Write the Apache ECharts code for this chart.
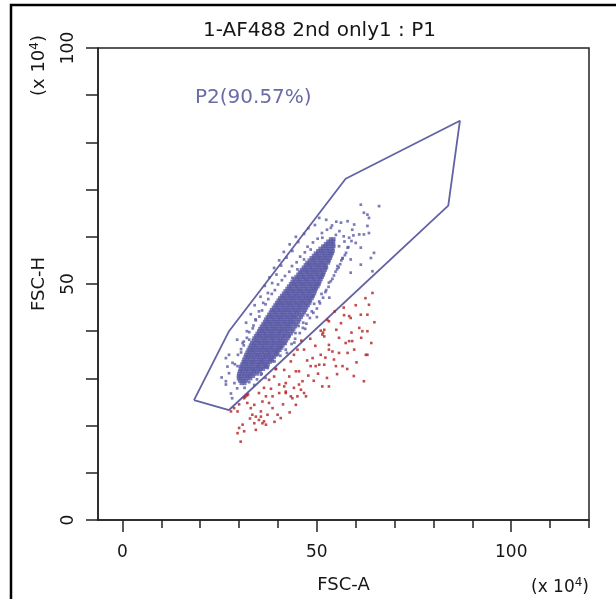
<!DOCTYPE html>
<html><head><meta charset="utf-8">
<script src="https://cdn.jsdelivr.net/npm/echarts@6/dist/echarts.min.js"></script>
<style>html,body{margin:0;padding:0;background:#fff}#c{width:616px;height:599px}</style>
</head><body><div id="c"></div>
<script>
const chartTitle = '1-AF488 2nd only1 : P1';
const gateLabel = 'P2(90.57%)';
const xName = 'FSC-A';
const yName = 'FSC-H';
const xTickValues = [0,10,20,30,40,50,60,70,80,90,100,110,120];
const xMajorValues = [0,50,100];
const yLabelValues = [0,50,100];
const gateX = [18.4,27.4,57.4,86.8,83.8,27.4,18.4];
const gateY = [25.4,40.0,72.3,84.6,66.6,23.3,25.4];

// dense core of P2, read row by row: [y, [x values]]
const blueRows = [
[29.0,[30.6,31.4]],
[29.5,[30.2,31.0,31.8]],
[30.0,[29.9,30.6,31.4,32.2,32.9]],
[30.5,[29.9,30.5,31.4,32.1,32.7,33.6]],
[31.0,[30.0,30.9,31.5,32.4,33.0,33.7,34.6]],
[31.5,[30.2,30.8,31.7,32.3,33.2,33.8,34.5,35.3]],
[32.0,[30.4,31.2,31.8,32.7,33.5,34.0,34.9,35.6,36.2]],
[32.5,[30.5,31.1,32.0,32.6,33.4,34.3,34.9,35.5,36.4,36.9]],
[33.0,[30.8,31.6,32.2,33.1,33.7,34.6,35.2,36.0,36.7,37.4]],
[33.5,[31.1,31.7,32.6,33.3,33.9,34.8,35.6,36.1,37.0,37.9]],
[34.0,[31.3,32.1,32.7,33.6,34.2,35.1,35.8,36.4,37.3,38.0,38.5]],
[34.5,[31.6,32.3,33.1,33.8,34.7,35.3,36.2,36.8,37.6,38.3,39.0]],
[35.0,[31.8,32.6,33.2,34.1,34.8,35.4,36.3,37.0,37.7,38.6,39.4]],
[35.5,[32.1,32.8,33.6,34.2,35.1,35.9,36.5,37.4,38.0,38.8,39.5,39.9]],
[36.0,[32.4,33.2,33.8,34.7,35.3,36.1,36.9,37.5,38.4,39.1,39.8,40.4]],
[36.5,[32.7,33.4,34.2,34.9,35.8,36.4,37.2,38.0,38.6,39.5,40.2,40.9]],
[37.0,[33.0,33.8,34.4,35.3,36.0,36.7,37.5,38.3,38.9,39.8,40.5,41.2]],
[37.5,[33.3,34.0,34.9,35.5,36.4,37.1,37.8,38.7,39.3,40.1,40.9,41.7]],
[38.0,[33.7,34.5,35.1,36.0,36.7,37.4,38.3,38.9,39.8,40.5,41.2,42.1]],
[38.5,[33.9,34.6,35.5,36.2,36.9,37.8,38.5,39.1,40.0,40.8,41.5,42.5]],
[39.0,[34.3,35.1,35.7,36.6,37.3,38.0,38.9,39.6,40.3,41.2,41.8,42.7]],
[39.5,[34.7,35.4,36.3,36.9,37.8,38.5,39.2,40.1,40.7,41.6,42.4,43.3]],
[40.0,[35.1,35.9,36.5,37.4,38.1,38.8,39.7,40.4,41.0,41.9,42.7,43.7]],
[40.5,[35.4,36.1,37.0,37.6,38.5,39.2,39.9,40.8,41.5,42.2,43.1,44.0]],
[41.0,[35.8,36.6,37.2,38.1,38.8,39.5,40.4,41.0,41.9,42.6,43.3,44.4]],
[41.5,[36.2,36.9,37.8,38.4,39.3,40.0,40.7,41.6,42.3,43.0,43.9,44.8]],
[42.0,[36.6,37.4,38.0,38.9,39.6,40.3,41.2,41.8,42.7,43.4,44.1,45.2]],
[42.5,[36.9,37.6,38.5,39.1,40.0,40.7,41.4,42.3,43.0,43.7,44.6,45.5]],
[43.0,[37.3,38.1,38.7,39.6,40.3,41.0,41.9,42.5,43.4,44.1,44.8,45.9]],
[43.5,[37.7,38.4,39.3,39.9,40.8,41.5,42.2,43.1,43.8,44.5,45.4,46.3]],
[44.0,[38.1,38.9,39.5,40.4,41.1,41.8,42.7,43.3,44.2,44.9,45.6,46.7]],
[44.5,[38.4,39.1,40.0,40.6,41.5,42.2,42.9,43.8,44.5,45.2,46.1,47.0]],
[45.0,[38.9,39.7,40.3,41.2,41.9,42.6,43.5,44.1,45.0,45.7,46.4,47.3]],
[45.5,[39.3,40.0,40.9,41.5,42.4,43.1,43.8,44.7,45.4,46.1,47.0,47.7]],
[46.0,[39.7,40.5,41.1,42.0,42.7,43.4,44.3,44.9,45.8,46.5,47.2,48.1]],
[46.5,[40.1,40.8,41.7,42.3,43.2,43.9,44.6,45.5,46.2,46.9,47.8,48.3]],
[47.0,[40.5,41.3,41.9,42.8,43.5,44.2,45.1,45.7,46.6,47.3,48.0,48.7]],
[47.5,[41.0,41.7,42.6,43.2,44.1,44.8,45.5,46.4,47.1,47.8,48.7,49.0]],
[48.0,[41.5,42.3,42.9,43.8,44.5,45.2,46.1,46.7,47.6,48.3,49.3]],
[48.5,[41.9,42.6,43.5,44.1,45.0,45.7,46.4,47.3,48.0,48.7,49.5]],
[49.0,[42.4,43.2,43.8,44.7,45.4,46.1,47.0,47.6,48.5,49.2,49.8]],
[49.5,[42.8,43.5,44.4,45.0,45.9,46.6,47.3,48.2,48.9,49.6,50.2]],
[50.0,[43.3,44.1,44.7,45.6,46.3,47.0,47.9,48.5,49.4,50.1,50.5]],
[50.5,[43.7,44.4,45.3,45.9,46.8,47.5,48.2,49.1,49.8,50.7]],
[51.0,[44.2,45.0,45.6,46.5,47.2,47.9,48.8,49.4,50.3,51.0]],
[51.5,[44.7,45.4,46.3,46.9,47.8,48.5,49.2,50.1,50.8,51.3]],
[52.0,[45.2,46.0,46.6,47.5,48.2,48.9,49.8,50.4,51.3,51.6]],
[52.5,[45.6,46.3,47.2,47.8,48.7,49.4,50.1,51.0,51.8]],
[53.0,[46.1,46.9,47.5,48.4,49.1,49.8,50.7,51.3,52.1]],
[53.5,[46.6,47.3,48.2,48.8,49.7,50.4,51.1,52.0,52.4]],
[54.0,[47.1,47.9,48.5,49.4,50.1,50.8,51.7,52.3]],
[54.5,[47.5,48.2,49.1,49.7,50.6,51.3,52.0,52.9]],
[55.0,[48.1,48.9,49.5,50.4,51.1,51.8,52.7,53.1]],
[55.5,[48.6,49.3,50.2,50.8,51.7,52.4,53.4]],
[56.0,[49.2,50.0,50.6,51.5,52.2,52.9,53.6]],
[56.5,[49.7,50.4,51.3,51.9,52.8,53.5,53.9]],
[57.0,[50.3,51.1,51.7,52.6,53.3,54.1]],
[57.5,[50.9,51.6,52.5,53.1,54.0]],
[58.0,[51.6,52.2,52.8,53.7,54.3]],
[58.5,[52.3,52.9,53.6,54.2]],
[59.0,[52.9,53.5,54.2]],
[59.5,[53.6,54.3]]
];

// scattered P2 events around the core
const blueSparse = [
[30.5,35.5],[31.2,37.0],[29.5,38.2],[30.9,37.5],[32.6,38.2],[27.4,35.0],[28.3,33.3],[29.6,32.6],[27.4,31.1],[26.6,34.3],
[32.0,40.0],[33.5,40.6],[31.8,41.8],[34.2,42.5],[33.0,43.6],[35.1,44.2],[34.0,45.5],[36.2,46.0],[35.5,47.3],[37.4,48.1],
[36.6,49.6],[38.5,50.2],[37.8,51.4],[39.6,52.0],[39.0,53.4],[40.8,53.9],[40.3,55.0],[42.2,55.6],[41.5,56.8],[43.7,57.0],
[43.0,58.4],[45.2,58.9],[44.6,60.0],[46.7,60.6],[48.4,57.3],[46.7,55.2],[45.0,53.1],[43.7,51.3],[47.8,61.8],[49.5,62.5],
[51.4,59.8],[53.6,61.9],[50.6,64.0],[52.4,63.6],
[34.6,29.8],[35.8,31.0],[37.4,32.4],[38.6,33.6],[39.9,35.0],[40.7,36.6],[41.9,37.3],[43.0,38.9],[44.5,39.6],[45.3,41.1],
[46.5,41.8],[47.6,43.4],[48.7,44.2],[49.3,45.8],[50.6,46.3],[51.2,47.9],[52.4,48.7],[53.1,50.3],[54.0,51.1],[54.8,52.6],
[55.6,53.5],[56.3,55.0],[57.2,56.1],[55.3,53.8],[56.6,55.5],[58.7,55.2],[58.7,52.4],[61.3,54.1],[63.9,55.5],[64.3,52.7],
[64.7,56.6],[57.9,57.7],[61.3,57.7],[60.0,58.7],[58.3,59.8],[60.9,60.5],[62.1,60.5],[63.4,60.8],[59.1,61.5],[63.0,62.3],
[59.6,62.6],[56.2,63.0],[57.9,63.3],[63.4,64.0],[62.1,65.1],[61.3,66.8],[66.0,66.5],[63.0,64.7],[55.7,58.0],[57.1,59.0],
[53.2,47.1],[50.0,43.0],[47.0,40.5],[44.2,37.6],[42.3,35.4],[39.5,32.0],[36.8,30.1],[33.9,28.6],
[26.6,28.7],[29.5,27.9],[27.9,26.8],[28.2,25.8],[26.6,29.4],[28.8,29.0],[31.4,28.0],[32.6,29.2],[25.5,30.2],[27.0,32.5],
[28.9,33.0],[29.7,35.0],[30.5,36.2],[31.2,37.8],[32.0,38.6],[32.6,39.8],[33.7,41.2],[34.3,42.3],[35.2,43.1],[35.9,44.4],
[36.8,45.7],[37.5,46.8],[38.4,47.9],[39.2,48.7],[40.0,49.9],[41.0,50.8],[41.8,51.7],[42.9,52.6],[43.6,53.8],[44.8,54.6],
[45.7,55.8],[46.9,56.7],[47.6,57.9],[49.0,58.8],[50.2,59.6],[51.3,60.8],[52.6,61.5],[53.9,62.4],[55.0,63.2],
[35.6,30.8],[37.3,32.2],[39.1,33.6],[40.6,34.8],[42.0,36.1],[43.5,37.3],[44.4,38.4],[45.6,39.6],[46.4,40.7],[47.3,41.6],
[48.2,42.8],[49.1,43.9],[50.0,44.8],[50.8,45.9],[51.6,47.1],[52.2,48.3],[53.0,49.4],[53.6,50.6],[54.4,51.8],[55.2,53.1],
[56.0,54.2],[56.6,55.4],[57.5,56.6],[58.1,57.8],[58.9,59.1],[59.4,60.3],[54.9,60.4],[55.8,61.2],[56.9,60.1]
];

// events outside the P2 gate
const redPoints = [
[64.3,48.1],[63.4,45.6],[63.0,43.5],[61.3,43.5],[58.3,43.2],[57.0,43.4],[58.7,42.8],[56.2,41.7],[52.7,42.4],[51.9,40.3],
[51.0,40.1],[51.9,38.9],[55.7,38.6],[60.9,40.7],[61.7,40.0],[63.0,40.0],[63.0,35.0],[59.1,37.9],[58.3,37.9],[57.4,37.5],
[59.6,36.1],[57.9,35.4],[55.7,35.4],[54.0,35.7],[53.1,37.1],[53.1,36.1],[51.0,35.0],[48.9,34.3],[51.9,32.9],[54.9,32.6],
[54.4,34.0],[56.6,32.6],[50.6,32.9],[49.7,32.6],[48.4,32.6],[46.7,36.1],[45.0,36.1],[44.1,35.0],[43.3,33.6],[41.6,31.8],
[44.6,31.5],[45.4,31.5],[42.9,30.4],[42.0,29.0],[44.1,28.0],[45.4,28.7],[45.9,27.6],[46.3,29.4],[46.7,26.9],[51.4,28.3],
[53.1,28.3],[62.1,29.4],[43.3,26.2],[43.7,25.8],[45.0,26.2],[47.2,26.2],[42.0,27.2],[44.6,24.4],[51.4,39.3],[51.6,39.7],
[53.1,42.1],[62.6,35.0],
[39.4,32.0],[39.0,30.4],[37.7,29.7],[36.4,28.0],[40.3,28.7],[41.6,28.3],[42.0,26.9],[40.3,26.9],[38.6,26.2],[36.9,26.2],
[36.0,25.1],[37.7,24.8],[33.9,24.4],[32.1,24.8],[33.0,23.7],[32.0,26.4],[31.6,26.1],[32.3,26.6],[31.3,25.8],[28.7,23.7],
[27.9,23.0],[29.6,23.0],[35.6,23.0],[33.4,22.3],[34.3,21.9],[35.6,21.9],[37.3,22.3],[39.9,22.3],[35.1,21.2],[36.4,20.9],
[36.9,20.2],[33.9,20.5],[30.9,20.2],[30.0,19.5],[29.6,18.4],[31.3,18.8],[30.4,16.6],[34.3,19.1],[36.0,20.5],[38.6,23.7],
[40.7,21.6],[30.0,24.5],[47.8,30.6],[49.2,29.5],[50.3,31.0],[52.6,30.1],[55.2,30.9],[57.8,32.0],[60.2,33.4],[58.9,39.7],
[55.0,40.3],[49.6,36.9],[47.5,33.8],[46.0,38.0],[54.6,44.2],[60.0,45.5],[62.5,47.0],[64.8,41.9],[56.9,45.0],[48.3,38.4],
[41.3,24.5],[38.2,27.8],[35.1,26.9],[43.0,22.8],[39.1,20.8],[32.8,21.5],[64.0,37.5],[61.4,38.6],[59.5,30.5],[52.2,34.4]
];

const blueCore = [];
blueRows.forEach(r => r[1].forEach(x => blueCore.push([x, r[0]])));
const gateData = gateX.map((x, i) => [x, gateY[i]]);

const FONT = 'DejaVu Sans';
const TXT = '#161616';
const BLUE = '#5a5aa6';
const chart = echarts.init(document.getElementById('c'), null, {renderer: 'canvas'});
const xMin = -6.3, xMax = 120;
chart.setOption({
  animation: false,
  backgroundColor: '#ffffff',
  title: {
    text: chartTitle, left: 198, top: 16,
    textStyle: {fontFamily: FONT, fontSize: 20, fontWeight: 'normal', color: TXT}
  },
  grid: {left: 98, top: 48, right: 27, bottom: 79, show: true, borderColor: '#222', borderWidth: 1.5, backgroundColor: 'transparent'},
  xAxis: [
    {
      type: 'value', min: xMin, max: xMax,
      axisLine: {show: true, onZero: false, lineStyle: {color: '#222', width: 1.5}},
      axisTick: {show: true, customValues: xTickValues, length: 8, lineStyle: {color: '#222', width: 1.5}},
      axisLabel: {show: true, customValues: xMajorValues, fontFamily: FONT, fontSize: 17, color: TXT, margin: 24},
      splitLine: {show: false},
      name: xName, nameLocation: 'middle', nameGap: 56,
      nameTextStyle: {fontFamily: FONT, fontSize: 18, color: TXT}
    },
    {
      type: 'value', min: xMin, max: xMax, position: 'bottom',
      axisLine: {show: false},
      axisTick: {show: true, customValues: xMajorValues, length: 12, lineStyle: {color: '#222', width: 1.5}},
      axisLabel: {show: false},
      splitLine: {show: false}
    }
  ],
  yAxis: {
    type: 'value', min: 0, max: 100, interval: 10,
    axisLine: {show: true, onZero: false, lineStyle: {color: '#222', width: 1.5}},
    axisTick: {show: true, length: 12, lineStyle: {color: '#222', width: 1.5}},
    axisLabel: {show: true, customValues: yLabelValues, rotate: 90, fontFamily: FONT, fontSize: 17, color: TXT, margin: 21},
    splitLine: {show: false},
    name: yName, nameLocation: 'middle', nameGap: 50, nameRotate: 90,
    nameTextStyle: {fontFamily: FONT, fontSize: 18, color: TXT}
  },
  graphic: [
    {type: 'rect', shape: {x: 11, y: 5, width: 800, height: 800}, style: {fill: 'none', stroke: '#000', lineWidth: 2.5}, silent: true, z: 100},
    {type: 'text', left: 195, top: 88, style: {text: gateLabel, fontFamily: FONT, fontSize: 20, fill: '#6b6ba8'}},
    {type: 'text', x: 531, y: 577, style: {text: '(x 10{s|4})', fontFamily: FONT, fontSize: 17, fill: TXT,
      rich: {s: {fontSize: 12, verticalAlign: 'top', padding: [0,0,9,0], fontFamily: FONT}}}},
    {type: 'text', x: 29, y: 96, rotation: Math.PI / 2, style: {text: '(x 10{s|4})', fontFamily: FONT, fontSize: 18, fill: TXT,
      rich: {s: {fontSize: 12, verticalAlign: 'top', padding: [0,0,9,0], fontFamily: FONT}}}}
  ],
  series: [
    {
      type: 'line', data: gateData, symbol: 'none', silent: true,
      lineStyle: {color: '#6262a4', width: 1.8}, z: 3
    },
    {
      type: 'scatter', data: blueCore, symbol: 'rect', symbolSize: 4,
      itemStyle: {color: BLUE}, z: 4
    },
    {
      type: 'scatter', data: blueSparse, symbol: 'rect', symbolSize: 2.7,
      itemStyle: {color: BLUE}, z: 4
    },
    {
      type: 'scatter', data: redPoints, symbol: 'rect', symbolSize: 2.6,
      itemStyle: {color: '#b32020'}, z: 4
    }
  ]
});
</script>
</body></html>
